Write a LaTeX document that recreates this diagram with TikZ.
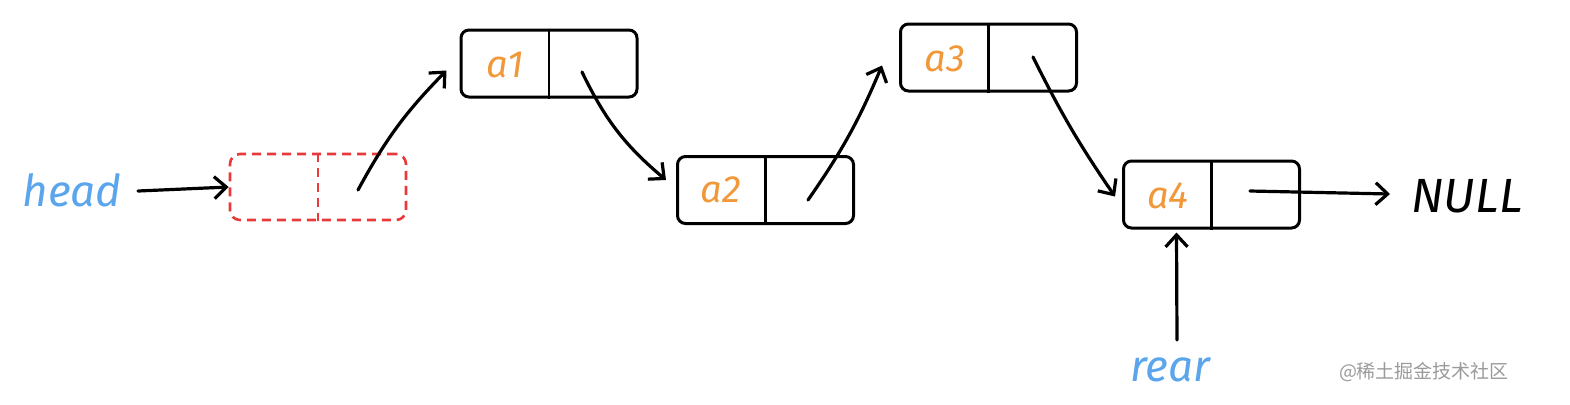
\documentclass[tikz,border=0pt]{standalone}
\usepackage{fontspec}
\setmainfont{Fira Sans}
\newfontfamily\cjkfont{Noto Sans CJK SC}
\usetikzlibrary{arrows.meta}
\definecolor{hblue}{HTML}{5AA5EB}
\definecolor{aorange}{HTML}{F0983A}
\definecolor{dred}{HTML}{E83A3A}
\definecolor{wgray}{HTML}{9A9A9A}
\begin{document}
\begin{tikzpicture}[x=0.5pt,y=-0.5pt,
  nodebox/.style={draw=black,line width=1.5pt,rounded corners=4pt,minimum width=88pt,minimum height=33.5pt,inner sep=0pt},
  ghostbox/.style={draw=dred,line width=1.3pt,dash pattern=on 4.5pt off 3pt,rounded corners=5pt,minimum width=88pt,minimum height=33pt,inner sep=0pt},
  lab/.style={text=aorange,font=\fontsize{19}{19}\selectfont\itshape,inner sep=0pt},
  var/.style={text=hblue,font=\fontsize{22}{22}\selectfont\itshape,inner sep=0pt},
  ptr/.style={line width=1.6pt,line cap=round,-{Straight Barb[length=6pt,width=11pt,line width=1.6pt]}},
  divider/.style={line width=1.3pt}
]
\useasboundingbox (0,0) rectangle (1570,404);
% nodes
\node[ghostbox] (n0) at (318,187) {};
\draw[dred,line width=1.3pt,dash pattern=on 4.5pt off 3pt] (n0.north) -- (n0.south);
\node[nodebox] (n1) at (549,63.5) {};
\node[nodebox] (n2) at (765.5,190) {};
\node[nodebox] (n3) at (988.5,57.5) {};
\node[nodebox] (n4) at (1211.5,194.5) {};
\foreach \n in {n1,n2,n3,n4} \draw[divider] (\n.north) -- (\n.south);
\node[lab] (l1) at (505,65) {a1};
\node[lab] (l2) at (721,190) {a2};
\node[lab] (l3) at (945,59) {a3};
\node[lab] (l4) at (1168,196) {a4};
% pointer sources
\coordinate (p0) at (358,190);
\coordinate (p1) at (582,72);
\coordinate (p2) at (808,200);
\coordinate (p3) at (1033,57);
\coordinate (p4) at (1250,191);
\coordinate (h0) at (138,191);
\coordinate (r0) at (1177,340);
\coordinate (nl) at (1390,194);
% labels
\node[var] (head) at (72,190) {head};
\node[var] (rear) at (1170,370) {rear};
\node[font=\fontsize{24}{24}\selectfont\itshape,inner sep=0pt] (null) at (1467,196) {NULL};
\node[text=wgray,font=\cjkfont\fontsize{9.5}{10}\selectfont,inner sep=0pt] (wm) at (1424,372) {@稀土掘金技术社区};
% connectors
\draw[ptr] (h0) -- (n0.west);
\draw[ptr] (p0) to[bend left=8] ([shift={(-13,7)}]n1.west);
\draw[ptr] (p1) to[bend right=12] ([shift={(-10,-10)}]n2.west);
\draw[ptr] (p2) to[bend right=6] ([shift={(-17,8)}]n3.west);
\draw[ptr] (p3) to[bend right=4] ([shift={(-7,2)}]n4.west);
\draw[ptr] (p4) -- (nl);
\draw[ptr] (r0) -- ([shift={(-35,3)}]n4.south);
\end{tikzpicture}
\end{document}
